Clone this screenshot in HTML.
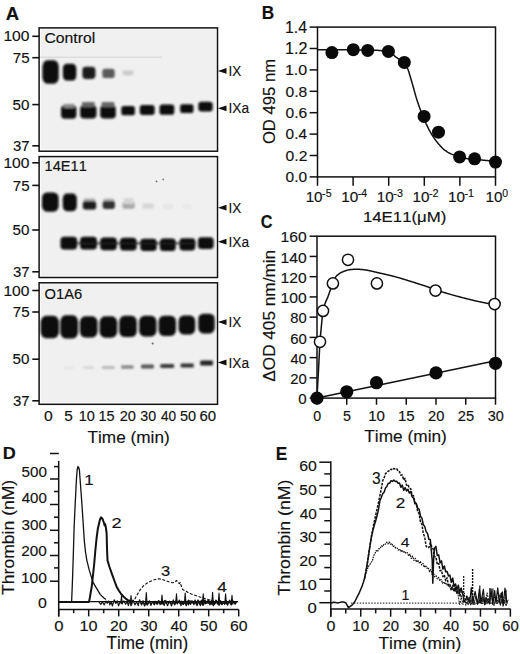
<!DOCTYPE html>
<html><head><meta charset="utf-8"><title>Figure</title>
<style>
html,body{margin:0;padding:0;background:#fff;}
svg{display:block;font-family:"Liberation Sans",sans-serif;font-kerning:none;}
</style></head>
<body>
<svg width="520" height="654" viewBox="0 0 520 654">
<defs><filter id="blur" x="-20%" y="-20%" width="140%" height="140%"><feGaussianBlur stdDeviation="1.15"/></filter></defs>
<rect width="520" height="654" fill="#fff"/>
<text transform="translate(5.84 19.50) scale(1.025 1)" font-size="18.02" font-weight="bold" fill="#111" stroke="#111" stroke-width="0.15">A</text>
<rect x="40.7" y="29.5" width="175.20000000000002" height="120.09999999999998" fill="#f0f0f0" stroke="none"/>
<rect x="40.7" y="158.2" width="175.20000000000002" height="117.7" fill="#f0f0f0" stroke="none"/>
<rect x="40.7" y="284.40000000000003" width="175.20000000000002" height="118.3" fill="#f0f0f0" stroke="none"/>
<g filter="url(#blur)">
<rect x="42.45" y="60.35" width="16.30" height="23.30" rx="4.96" ry="6.75" fill="#0a0a0a"/>
<rect x="62.90" y="63.80" width="13.40" height="16.80" rx="4.03" ry="4.80" fill="#0a0a0a"/>
<rect x="82.40" y="66.75" width="13.00" height="12.30" rx="3.68" ry="3.45" fill="#1c1c1c"/>
<rect x="102.35" y="68.65" width="12.30" height="9.30" rx="2.72" ry="2.55" fill="#5a5a5a"/>
<rect x="122.60" y="70.15" width="10.80" height="5.30" rx="1.44" ry="1.35" fill="#cdcdcd"/>
<rect x="61.05" y="105.35" width="15.30" height="13.30" rx="4.00" ry="3.75" fill="#0a0a0a"/>
<rect x="80.15" y="105.15" width="16.30" height="13.30" rx="4.00" ry="3.75" fill="#0a0a0a"/>
<rect x="100.20" y="105.15" width="15.60" height="13.30" rx="4.00" ry="3.75" fill="#0a0a0a"/>
<rect x="121.30" y="106.05" width="13.60" height="9.30" rx="2.72" ry="2.55" fill="#0a0a0a"/>
<rect x="139.80" y="105.10" width="14.80" height="9.80" rx="2.88" ry="2.70" fill="#0a0a0a"/>
<rect x="159.55" y="104.45" width="14.70" height="10.30" rx="3.04" ry="2.85" fill="#0a0a0a"/>
<rect x="180.15" y="104.30" width="13.30" height="8.80" rx="2.56" ry="2.40" fill="#0a0a0a"/>
<rect x="198.40" y="101.80" width="14.20" height="9.60" rx="2.82" ry="2.64" fill="#0a0a0a"/>
<rect x="81.90" y="102.10" width="12.80" height="4.80" rx="1.28" ry="1.20" fill="#666"/>
<rect x="101.60" y="102.10" width="12.80" height="4.80" rx="1.28" ry="1.20" fill="#666"/>
<rect x="63.60" y="104.10" width="10.80" height="3.80" rx="0.96" ry="0.90" fill="#888"/>
<rect x="42.00" y="192.45" width="16.60" height="19.30" rx="5.06" ry="5.55" fill="#0a0a0a"/>
<rect x="62.80" y="193.40" width="14.00" height="17.80" rx="4.22" ry="5.10" fill="#0a0a0a"/>
<rect x="83.60" y="198.60" width="11.80" height="5.80" rx="1.60" ry="1.50" fill="#aaa"/>
<rect x="82.85" y="201.15" width="13.30" height="8.30" rx="2.40" ry="2.25" fill="#1a1a1a"/>
<rect x="103.40" y="198.60" width="10.80" height="5.80" rx="1.60" ry="1.50" fill="#b0b0b0"/>
<rect x="102.65" y="201.10" width="12.30" height="7.80" rx="2.24" ry="2.10" fill="#333"/>
<rect x="122.45" y="202.00" width="12.30" height="6.80" rx="1.92" ry="1.80" fill="#a8a8a8"/>
<rect x="123.70" y="198.10" width="9.80" height="5.80" rx="1.60" ry="1.50" fill="#d6d6d6"/>
<rect x="142.45" y="203.55" width="11.30" height="5.30" rx="1.44" ry="1.35" fill="#d6d6d6"/>
<rect x="162.35" y="204.10" width="11.30" height="4.80" rx="1.28" ry="1.20" fill="#e6e6e6"/>
<rect x="182.10" y="204.10" width="9.80" height="4.80" rx="1.28" ry="1.20" fill="#eaeaea"/>
<rect x="60.50" y="236.80" width="16.60" height="12.80" rx="3.84" ry="3.60" fill="#0a0a0a"/>
<rect x="80.10" y="236.80" width="16.80" height="12.80" rx="3.84" ry="3.60" fill="#0a0a0a"/>
<rect x="100.20" y="237.40" width="16.60" height="12.80" rx="3.84" ry="3.60" fill="#0a0a0a"/>
<rect x="120.00" y="237.80" width="16.60" height="12.80" rx="3.84" ry="3.60" fill="#0a0a0a"/>
<rect x="140.35" y="238.65" width="16.30" height="12.30" rx="3.68" ry="3.45" fill="#0a0a0a"/>
<rect x="159.90" y="238.50" width="15.80" height="12.60" rx="3.78" ry="3.54" fill="#0a0a0a"/>
<rect x="179.50" y="238.15" width="15.80" height="12.30" rx="3.68" ry="3.45" fill="#0a0a0a"/>
<rect x="198.00" y="237.30" width="15.60" height="11.80" rx="3.52" ry="3.30" fill="#0a0a0a"/>
<rect x="76" y="242.5" width="120" height="1.6" fill="#222"/>
<rect x="40.65" y="315.85" width="18.30" height="22.30" rx="5.60" ry="6.45" fill="#0a0a0a"/>
<rect x="60.30" y="315.15" width="17.80" height="23.30" rx="5.44" ry="6.75" fill="#0a0a0a"/>
<rect x="79.90" y="316.15" width="17.60" height="21.30" rx="5.38" ry="6.15" fill="#0a0a0a"/>
<rect x="99.60" y="316.35" width="17.60" height="21.30" rx="5.38" ry="6.15" fill="#0a0a0a"/>
<rect x="119.20" y="315.75" width="17.60" height="21.30" rx="5.38" ry="6.15" fill="#0a0a0a"/>
<rect x="139.15" y="315.80" width="17.30" height="20.80" rx="5.28" ry="6.00" fill="#0a0a0a"/>
<rect x="158.65" y="315.65" width="17.30" height="20.30" rx="5.28" ry="5.85" fill="#0a0a0a"/>
<rect x="178.60" y="315.60" width="16.60" height="18.80" rx="5.06" ry="5.40" fill="#0a0a0a"/>
<rect x="198.35" y="313.70" width="16.30" height="19.80" rx="4.96" ry="5.70" fill="#0a0a0a"/>
<rect x="64.10" y="366.60" width="9.80" height="2.40" rx="0.51" ry="0.48" fill="#e4e4e4"/>
<rect x="83.20" y="366.10" width="10.80" height="2.80" rx="0.64" ry="0.60" fill="#dadada"/>
<rect x="102.15" y="365.90" width="12.30" height="3.20" rx="0.77" ry="0.72" fill="#b8b8b8"/>
<rect x="121.15" y="365.20" width="12.30" height="3.60" rx="0.90" ry="0.84" fill="#888"/>
<rect x="141.10" y="364.60" width="12.80" height="3.80" rx="0.96" ry="0.90" fill="#555"/>
<rect x="160.30" y="364.00" width="13.80" height="4.00" rx="1.02" ry="0.96" fill="#3a3a3a"/>
<rect x="180.60" y="363.40" width="13.20" height="4.20" rx="1.09" ry="1.02" fill="#333"/>
<rect x="200.20" y="360.60" width="12.80" height="4.80" rx="1.28" ry="1.20" fill="#222"/>
</g>
<circle cx="156.5" cy="181.3" r="0.9" fill="#666"/><circle cx="163.2" cy="179.4" r="0.9" fill="#777"/><circle cx="152.6" cy="343.5" r="1" fill="#666"/>
<line x1="39.10" y1="57.20" x2="162.00" y2="57.20" stroke="#cdcdcd" stroke-width="0.8" />
<rect x="39.1" y="27.9" width="178.4" height="123.29999999999998" fill="none" stroke="#111" stroke-width="1.5"/>
<line x1="32.30" y1="36.30" x2="39.10" y2="36.30" stroke="#111" stroke-width="1.6" />
<text transform="translate(3.41 41.45) scale(1.045 1)" font-size="14.97" font-weight="normal" fill="#111" stroke="#111" stroke-width="0.15">100</text>
<line x1="32.30" y1="57.70" x2="39.10" y2="57.70" stroke="#111" stroke-width="1.6" />
<text transform="translate(12.73 62.85) scale(0.995 1)" font-size="15.19" font-weight="normal" fill="#111" stroke="#111" stroke-width="0.15">75</text>
<line x1="32.30" y1="104.60" x2="39.10" y2="104.60" stroke="#111" stroke-width="1.6" />
<text transform="translate(12.59 109.75) scale(1.015 1)" font-size="14.97" font-weight="normal" fill="#111" stroke="#111" stroke-width="0.15">50</text>
<line x1="32.30" y1="145.80" x2="39.10" y2="145.80" stroke="#111" stroke-width="1.6" />
<text transform="translate(13.03 150.95) scale(0.998 1)" font-size="14.97" font-weight="normal" fill="#111" stroke="#111" stroke-width="0.15">37</text>
<text transform="translate(44.40 42.96) scale(1.093 1)" font-size="14.43" font-weight="normal" fill="#111" stroke="#111" stroke-width="0.15">Control</text>
<polygon points="217.8,70.9 226.5,68.0 226.5,73.8" fill="#111"/>
<text transform="translate(228.56 76.20) scale(0.883 1)" font-size="15.26" font-weight="normal" fill="#111" stroke="#111" stroke-width="0.15">IX</text>
<polygon points="217.8,108.3 226.5,105.4 226.5,111.2" fill="#111"/>
<text transform="translate(228.54 113.45) scale(0.910 1)" font-size="15.05" font-weight="normal" fill="#111" stroke="#111" stroke-width="0.15">IXa</text>
<rect x="39.1" y="156.6" width="178.4" height="120.9" fill="none" stroke="#111" stroke-width="1.5"/>
<line x1="32.30" y1="162.80" x2="39.10" y2="162.80" stroke="#111" stroke-width="1.6" />
<text transform="translate(3.41 167.95) scale(1.045 1)" font-size="14.97" font-weight="normal" fill="#111" stroke="#111" stroke-width="0.15">100</text>
<line x1="32.30" y1="185.40" x2="39.10" y2="185.40" stroke="#111" stroke-width="1.6" />
<text transform="translate(12.73 190.55) scale(0.995 1)" font-size="15.19" font-weight="normal" fill="#111" stroke="#111" stroke-width="0.15">75</text>
<line x1="32.30" y1="230.00" x2="39.10" y2="230.00" stroke="#111" stroke-width="1.6" />
<text transform="translate(12.59 235.15) scale(1.015 1)" font-size="14.97" font-weight="normal" fill="#111" stroke="#111" stroke-width="0.15">50</text>
<line x1="32.30" y1="271.80" x2="39.10" y2="271.80" stroke="#111" stroke-width="1.6" />
<text transform="translate(13.03 276.95) scale(0.998 1)" font-size="14.97" font-weight="normal" fill="#111" stroke="#111" stroke-width="0.15">37</text>
<text transform="translate(44.59 171.00) scale(0.975 1)" font-size="14.97" font-weight="normal" fill="#111" stroke="#111" stroke-width="0.15">14E11</text>
<polygon points="217.8,207.7 226.5,204.8 226.5,210.6" fill="#111"/>
<text transform="translate(228.56 213.00) scale(0.883 1)" font-size="15.26" font-weight="normal" fill="#111" stroke="#111" stroke-width="0.15">IX</text>
<polygon points="217.8,241.7 226.5,238.8 226.5,244.6" fill="#111"/>
<text transform="translate(228.54 246.85) scale(0.910 1)" font-size="15.05" font-weight="normal" fill="#111" stroke="#111" stroke-width="0.15">IXa</text>
<rect x="39.1" y="282.8" width="178.4" height="121.5" fill="none" stroke="#111" stroke-width="1.5"/>
<line x1="32.30" y1="290.50" x2="39.10" y2="290.50" stroke="#111" stroke-width="1.6" />
<text transform="translate(3.41 295.65) scale(1.045 1)" font-size="14.97" font-weight="normal" fill="#111" stroke="#111" stroke-width="0.15">100</text>
<line x1="32.30" y1="312.00" x2="39.10" y2="312.00" stroke="#111" stroke-width="1.6" />
<text transform="translate(12.73 317.15) scale(0.995 1)" font-size="15.19" font-weight="normal" fill="#111" stroke="#111" stroke-width="0.15">75</text>
<line x1="32.30" y1="359.20" x2="39.10" y2="359.20" stroke="#111" stroke-width="1.6" />
<text transform="translate(12.59 364.35) scale(1.015 1)" font-size="14.97" font-weight="normal" fill="#111" stroke="#111" stroke-width="0.15">50</text>
<line x1="32.30" y1="400.80" x2="39.10" y2="400.80" stroke="#111" stroke-width="1.6" />
<text transform="translate(13.03 405.95) scale(0.998 1)" font-size="14.97" font-weight="normal" fill="#111" stroke="#111" stroke-width="0.15">37</text>
<text transform="translate(44.50 298.75) scale(0.977 1)" font-size="15.11" font-weight="normal" fill="#111" stroke="#111" stroke-width="0.15">O1A6</text>
<polygon points="217.8,322.1 226.5,319.2 226.5,325.0" fill="#111"/>
<text transform="translate(228.56 327.40) scale(0.883 1)" font-size="15.26" font-weight="normal" fill="#111" stroke="#111" stroke-width="0.15">IX</text>
<polygon points="217.8,362.5 226.5,359.6 226.5,365.4" fill="#111"/>
<text transform="translate(228.54 367.65) scale(0.910 1)" font-size="15.05" font-weight="normal" fill="#111" stroke="#111" stroke-width="0.15">IXa</text>
<text transform="translate(43.99 421.45) scale(1.038 1)" font-size="15.11" font-weight="normal" fill="#111" stroke="#111" stroke-width="0.15">0</text>
<text transform="translate(64.18 421.45) scale(1.004 1)" font-size="15.33" font-weight="normal" fill="#111" stroke="#111" stroke-width="0.15">5</text>
<text transform="translate(78.70 421.45) scale(0.956 1)" font-size="15.11" font-weight="normal" fill="#111" stroke="#111" stroke-width="0.15">10</text>
<text transform="translate(98.50 421.45) scale(0.945 1)" font-size="15.33" font-weight="normal" fill="#111" stroke="#111" stroke-width="0.15">15</text>
<text transform="translate(119.66 421.45) scale(0.970 1)" font-size="15.11" font-weight="normal" fill="#111" stroke="#111" stroke-width="0.15">20</text>
<text transform="translate(140.36 421.45) scale(0.940 1)" font-size="15.11" font-weight="normal" fill="#111" stroke="#111" stroke-width="0.15">30</text>
<text transform="translate(160.99 421.45) scale(0.901 1)" font-size="15.11" font-weight="normal" fill="#111" stroke="#111" stroke-width="0.15">40</text>
<text transform="translate(180.02 421.45) scale(0.961 1)" font-size="15.11" font-weight="normal" fill="#111" stroke="#111" stroke-width="0.15">50</text>
<text transform="translate(199.54 421.45) scale(0.990 1)" font-size="15.11" font-weight="normal" fill="#111" stroke="#111" stroke-width="0.15">60</text>
<text transform="translate(87.51 442.50) scale(1.004 1)" font-size="17.15" font-weight="normal" fill="#111" stroke="#111" stroke-width="0.15">Time (min)</text>
<text transform="translate(261.65 19.10) scale(0.933 1)" font-size="18.46" font-weight="bold" fill="#111" stroke="#111" stroke-width="0.15">B</text>
<rect x="317.5" y="27.1" width="178.0" height="149.8" fill="none" stroke="#111" stroke-width="1.5"/>
<line x1="309.60" y1="176.90" x2="317.50" y2="176.90" stroke="#111" stroke-width="1.5" />
<text transform="translate(285.59 182.25) scale(1.010 1)" font-size="15.40" font-weight="normal" fill="#111" stroke="#111" stroke-width="0.15">0.0</text>
<line x1="309.60" y1="155.50" x2="317.50" y2="155.50" stroke="#111" stroke-width="1.5" />
<text transform="translate(285.59 160.85) scale(1.019 1)" font-size="15.40" font-weight="normal" fill="#111" stroke="#111" stroke-width="0.15">0.2</text>
<line x1="309.60" y1="134.10" x2="317.50" y2="134.10" stroke="#111" stroke-width="1.5" />
<text transform="translate(285.60 139.45) scale(1.002 1)" font-size="15.40" font-weight="normal" fill="#111" stroke="#111" stroke-width="0.15">0.4</text>
<line x1="309.60" y1="112.70" x2="317.50" y2="112.70" stroke="#111" stroke-width="1.5" />
<text transform="translate(285.59 118.05) scale(1.014 1)" font-size="15.40" font-weight="normal" fill="#111" stroke="#111" stroke-width="0.15">0.6</text>
<line x1="309.60" y1="91.30" x2="317.50" y2="91.30" stroke="#111" stroke-width="1.5" />
<text transform="translate(285.59 96.65) scale(1.013 1)" font-size="15.40" font-weight="normal" fill="#111" stroke="#111" stroke-width="0.15">0.8</text>
<line x1="309.60" y1="69.90" x2="317.50" y2="69.90" stroke="#111" stroke-width="1.5" />
<text transform="translate(284.98 75.25) scale(1.039 1)" font-size="15.40" font-weight="normal" fill="#111" stroke="#111" stroke-width="0.15">1.0</text>
<line x1="309.60" y1="48.50" x2="317.50" y2="48.50" stroke="#111" stroke-width="1.5" />
<text transform="translate(284.97 54.00) scale(1.034 1)" font-size="15.61" font-weight="normal" fill="#111" stroke="#111" stroke-width="0.15">1.2</text>
<line x1="309.60" y1="27.10" x2="317.50" y2="27.10" stroke="#111" stroke-width="1.5" />
<text transform="translate(284.99 32.60) scale(1.002 1)" font-size="15.84" font-weight="normal" fill="#111" stroke="#111" stroke-width="0.15">1.4</text>
<line x1="317.50" y1="176.90" x2="317.50" y2="185.80" stroke="#111" stroke-width="1.5" />
<text transform="translate(305.64 202.46) scale(1.101 1)" font-size="13.84" font-weight="normal" fill="#111" stroke="#111" stroke-width="0.15">10</text>
<text transform="translate(322.12 196.90) scale(1.010 1)" font-size="10.61" font-weight="normal" fill="#111" stroke="#111" stroke-width="0.15">-5</text>
<line x1="353.10" y1="176.90" x2="353.10" y2="185.80" stroke="#111" stroke-width="1.5" />
<text transform="translate(341.24 202.46) scale(1.101 1)" font-size="13.84" font-weight="normal" fill="#111" stroke="#111" stroke-width="0.15">10</text>
<text transform="translate(357.73 197.00) scale(0.981 1)" font-size="10.76" font-weight="normal" fill="#111" stroke="#111" stroke-width="0.15">-4</text>
<line x1="388.70" y1="176.90" x2="388.70" y2="185.80" stroke="#111" stroke-width="1.5" />
<text transform="translate(376.84 202.46) scale(1.101 1)" font-size="13.84" font-weight="normal" fill="#111" stroke="#111" stroke-width="0.15">10</text>
<text transform="translate(393.32 196.90) scale(1.028 1)" font-size="10.45" font-weight="normal" fill="#111" stroke="#111" stroke-width="0.15">-3</text>
<line x1="424.30" y1="176.90" x2="424.30" y2="185.80" stroke="#111" stroke-width="1.5" />
<text transform="translate(412.44 202.46) scale(1.101 1)" font-size="13.84" font-weight="normal" fill="#111" stroke="#111" stroke-width="0.15">10</text>
<text transform="translate(428.92 197.00) scale(1.021 1)" font-size="10.60" font-weight="normal" fill="#111" stroke="#111" stroke-width="0.15">-2</text>
<line x1="459.90" y1="176.90" x2="459.90" y2="185.80" stroke="#111" stroke-width="1.5" />
<text transform="translate(448.04 202.46) scale(1.101 1)" font-size="13.84" font-weight="normal" fill="#111" stroke="#111" stroke-width="0.15">10</text>
<text transform="translate(464.52 197.00) scale(1.005 1)" font-size="10.76" font-weight="normal" fill="#111" stroke="#111" stroke-width="0.15">-1</text>
<line x1="495.50" y1="176.90" x2="495.50" y2="185.80" stroke="#111" stroke-width="1.5" />
<text transform="translate(485.44 202.46) scale(1.101 1)" font-size="13.84" font-weight="normal" fill="#111" stroke="#111" stroke-width="0.15">10</text>
<text transform="translate(502.19 197.49) scale(0.926 1)" font-size="11.30" font-weight="normal" fill="#111" stroke="#111" stroke-width="0.15">0</text>
<text transform="translate(362.92 221.50) scale(1.123 1)" font-size="14.97" font-weight="normal" fill="#111" stroke="#111" stroke-width="0.15">14E11(μM)</text>
<text transform="translate(274.80 144.09) rotate(-90) scale(1.043 1)" font-size="15.99" font-weight="normal" fill="#111" stroke="#111" stroke-width="0.15">OD 495 nm</text>
<polyline points="317.20,49.80 317.79,49.80 318.39,49.80 318.98,49.80 319.58,49.80 320.17,49.80 320.77,49.80 321.36,49.80 321.95,49.80 322.55,49.80 323.14,49.80 323.74,49.80 324.33,49.80 324.93,49.80 325.52,49.80 326.12,49.80 326.71,49.80 327.30,49.80 327.90,49.80 328.49,49.80 329.09,49.80 329.68,49.80 330.28,49.80 330.87,49.80 331.46,49.80 332.06,49.80 332.65,49.80 333.25,49.80 333.84,49.80 334.44,49.80 335.03,49.80 335.62,49.80 336.22,49.80 336.81,49.80 337.41,49.80 338.00,49.80 338.60,49.80 339.19,49.80 339.78,49.80 340.38,49.80 340.97,49.80 341.57,49.80 342.16,49.80 342.76,49.80 343.35,49.80 343.94,49.80 344.54,49.81 345.13,49.81 345.73,49.81 346.32,49.81 346.92,49.81 347.51,49.82 348.11,49.82 348.70,49.82 349.29,49.83 349.89,49.83 350.48,49.83 351.08,49.84 351.67,49.84 352.27,49.84 352.86,49.85 353.45,49.85 354.05,49.85 354.64,49.86 355.24,49.86 355.83,49.87 356.43,49.87 357.02,49.88 357.61,49.88 358.21,49.89 358.80,49.89 359.40,49.90 359.99,49.90 360.59,49.91 361.18,49.91 361.77,49.92 362.37,49.92 362.96,49.93 363.56,49.94 364.15,49.95 364.75,49.95 365.34,49.96 365.94,49.97 366.53,49.98 367.12,50.00 367.72,50.01 368.31,50.02 368.91,50.03 369.50,50.05 370.10,50.06 370.69,50.07 371.28,50.09 371.88,50.10 372.47,50.12 373.07,50.14 373.66,50.16 374.26,50.18 374.85,50.20 375.44,50.22 376.04,50.24 376.63,50.27 377.23,50.31 377.82,50.35 378.42,50.39 379.01,50.44 379.61,50.49 380.20,50.54 380.79,50.59 381.39,50.65 381.98,50.70 382.58,50.76 383.17,50.82 383.77,50.87 384.36,50.93 384.95,50.99 385.55,51.06 386.14,51.13 386.74,51.21 387.33,51.31 387.93,51.42 388.52,51.55 389.11,51.76 389.71,52.04 390.30,52.37 390.90,52.75 391.49,53.15 392.09,53.56 392.68,54.05 393.27,54.62 393.87,55.22 394.46,55.82 395.06,56.35 395.65,56.83 396.25,57.28 396.84,57.72 397.44,58.15 398.03,58.58 398.62,59.02 399.22,59.46 399.81,59.91 400.41,60.35 401.00,60.79 401.60,61.25 402.19,61.73 402.78,62.25 403.38,62.77 403.97,63.32 404.57,63.91 405.16,64.58 405.76,65.34 406.35,66.25 406.94,67.29 407.54,68.48 408.13,69.82 408.73,71.49 409.32,73.45 409.92,75.50 410.51,77.50 411.10,79.50 411.70,81.55 412.29,83.62 412.89,85.70 413.48,87.79 414.08,89.93 414.67,92.11 415.26,94.28 415.86,96.39 416.45,98.37 417.05,100.25 417.64,102.06 418.24,103.81 418.83,105.52 419.43,107.19 420.02,108.84 420.61,110.46 421.21,112.02 421.80,113.51 422.40,114.89 422.99,116.19 423.59,117.47 424.18,118.79 424.77,120.22 425.37,121.75 425.96,123.24 426.56,124.61 427.15,125.90 427.75,127.15 428.34,128.35 428.93,129.50 429.53,130.61 430.12,131.69 430.72,132.74 431.31,133.76 431.91,134.76 432.50,135.72 433.09,136.64 433.69,137.54 434.28,138.40 434.88,139.23 435.47,140.04 436.07,140.83 436.66,141.59 437.26,142.33 437.85,143.04 438.44,143.74 439.04,144.42 439.63,145.09 440.23,145.76 440.82,146.41 441.42,147.05 442.01,147.66 442.60,148.26 443.20,148.82 443.79,149.34 444.39,149.83 444.98,150.29 445.58,150.72 446.17,151.14 446.76,151.55 447.36,151.93 447.95,152.30 448.55,152.65 449.14,152.98 449.74,153.29 450.33,153.58 450.92,153.86 451.52,154.12 452.11,154.37 452.71,154.61 453.30,154.84 453.90,155.06 454.49,155.27 455.09,155.48 455.68,155.68 456.27,155.87 456.87,156.06 457.46,156.24 458.06,156.42 458.65,156.60 459.25,156.77 459.84,156.94 460.43,157.11 461.03,157.28 461.62,157.45 462.22,157.62 462.81,157.78 463.41,157.93 464.00,158.07 464.59,158.21 465.19,158.33 465.78,158.43 466.38,158.53 466.97,158.61 467.57,158.69 468.16,158.77 468.75,158.84 469.35,158.91 469.94,158.97 470.54,159.04 471.13,159.10 471.73,159.16 472.32,159.21 472.92,159.26 473.51,159.32 474.10,159.37 474.70,159.42 475.29,159.47 475.89,159.51 476.48,159.56 477.08,159.61 477.67,159.66 478.26,159.71 478.86,159.76 479.45,159.81 480.05,159.86 480.64,159.92 481.24,159.97 481.83,160.03 482.42,160.09 483.02,160.15 483.61,160.21 484.21,160.27 484.80,160.33 485.40,160.39 485.99,160.45 486.58,160.51 487.18,160.56 487.77,160.62 488.37,160.68 488.96,160.74 489.56,160.80 490.15,160.86 490.75,160.92 491.34,160.98 491.93,161.04 492.53,161.10 493.12,161.16 493.72,161.22 494.31,161.28 494.91,161.34 495.50,161.40" fill="none" stroke="#111" stroke-width="1.5" stroke-linejoin="round" />
<circle cx="331.9" cy="52.6" r="6.5" fill="#0a0a0a"/>
<circle cx="353.3" cy="49.7" r="6.5" fill="#0a0a0a"/>
<circle cx="367.7" cy="50.4" r="6.5" fill="#0a0a0a"/>
<circle cx="388.4" cy="51.4" r="6.5" fill="#0a0a0a"/>
<circle cx="404.3" cy="62.4" r="6.5" fill="#0a0a0a"/>
<circle cx="424.1" cy="116.4" r="6.5" fill="#0a0a0a"/>
<circle cx="438.5" cy="132.2" r="6.5" fill="#0a0a0a"/>
<circle cx="459.6" cy="156.9" r="6.5" fill="#0a0a0a"/>
<circle cx="474.6" cy="158.8" r="6.5" fill="#0a0a0a"/>
<circle cx="495.5" cy="162.1" r="6.5" fill="#0a0a0a"/>
<text transform="translate(260.84 227.62) scale(0.897 1)" font-size="18.08" font-weight="bold" fill="#111" stroke="#111" stroke-width="0.15">C</text>
<rect x="317.0" y="236.2" width="178.5" height="161.90000000000003" fill="none" stroke="#111" stroke-width="1.5"/>
<line x1="309.60" y1="398.10" x2="317.00" y2="398.10" stroke="#111" stroke-width="1.5" />
<text transform="translate(298.31 404.35) scale(0.987 1)" font-size="15.25" font-weight="normal" fill="#111" stroke="#111" stroke-width="0.15">0</text>
<line x1="309.60" y1="377.86" x2="317.00" y2="377.86" stroke="#111" stroke-width="1.5" />
<text transform="translate(290.15 384.11) scale(0.974 1)" font-size="15.25" font-weight="normal" fill="#111" stroke="#111" stroke-width="0.15">20</text>
<line x1="309.60" y1="357.62" x2="317.00" y2="357.62" stroke="#111" stroke-width="1.5" />
<text transform="translate(290.57 363.88) scale(0.949 1)" font-size="15.25" font-weight="normal" fill="#111" stroke="#111" stroke-width="0.15">40</text>
<line x1="309.60" y1="337.39" x2="317.00" y2="337.39" stroke="#111" stroke-width="1.5" />
<text transform="translate(290.15 343.64) scale(0.975 1)" font-size="15.25" font-weight="normal" fill="#111" stroke="#111" stroke-width="0.15">60</text>
<line x1="309.60" y1="317.15" x2="317.00" y2="317.15" stroke="#111" stroke-width="1.5" />
<text transform="translate(290.26 323.40) scale(0.968 1)" font-size="15.25" font-weight="normal" fill="#111" stroke="#111" stroke-width="0.15">80</text>
<line x1="309.60" y1="296.91" x2="317.00" y2="296.91" stroke="#111" stroke-width="1.5" />
<text transform="translate(280.61 303.16) scale(1.026 1)" font-size="15.25" font-weight="normal" fill="#111" stroke="#111" stroke-width="0.15">100</text>
<line x1="309.60" y1="276.68" x2="317.00" y2="276.68" stroke="#111" stroke-width="1.5" />
<text transform="translate(280.61 282.93) scale(1.026 1)" font-size="15.25" font-weight="normal" fill="#111" stroke="#111" stroke-width="0.15">120</text>
<line x1="309.60" y1="256.44" x2="317.00" y2="256.44" stroke="#111" stroke-width="1.5" />
<text transform="translate(280.61 262.69) scale(1.026 1)" font-size="15.25" font-weight="normal" fill="#111" stroke="#111" stroke-width="0.15">140</text>
<line x1="309.60" y1="236.20" x2="317.00" y2="236.20" stroke="#111" stroke-width="1.5" />
<text transform="translate(280.61 242.45) scale(1.026 1)" font-size="15.25" font-weight="normal" fill="#111" stroke="#111" stroke-width="0.15">160</text>
<line x1="317.00" y1="398.10" x2="317.00" y2="404.80" stroke="#111" stroke-width="1.5" />
<text transform="translate(313.34 420.66) scale(0.968 1)" font-size="14.69" font-weight="normal" fill="#111" stroke="#111" stroke-width="0.15">0</text>
<line x1="346.75" y1="398.10" x2="346.75" y2="404.80" stroke="#111" stroke-width="1.5" />
<text transform="translate(343.08 420.65) scale(0.962 1)" font-size="14.90" font-weight="normal" fill="#111" stroke="#111" stroke-width="0.15">5</text>
<line x1="376.50" y1="398.10" x2="376.50" y2="404.80" stroke="#111" stroke-width="1.5" />
<text transform="translate(368.15 420.66) scale(1.024 1)" font-size="14.69" font-weight="normal" fill="#111" stroke="#111" stroke-width="0.15">10</text>
<line x1="406.25" y1="398.10" x2="406.25" y2="404.80" stroke="#111" stroke-width="1.5" />
<text transform="translate(397.90 420.65) scale(1.012 1)" font-size="14.90" font-weight="normal" fill="#111" stroke="#111" stroke-width="0.15">15</text>
<line x1="436.00" y1="398.10" x2="436.00" y2="404.80" stroke="#111" stroke-width="1.5" />
<text transform="translate(428.06 420.66) scale(0.998 1)" font-size="14.69" font-weight="normal" fill="#111" stroke="#111" stroke-width="0.15">20</text>
<line x1="465.75" y1="398.10" x2="465.75" y2="404.80" stroke="#111" stroke-width="1.5" />
<text transform="translate(457.81 420.66) scale(1.001 1)" font-size="14.69" font-weight="normal" fill="#111" stroke="#111" stroke-width="0.15">25</text>
<line x1="495.50" y1="398.10" x2="495.50" y2="404.80" stroke="#111" stroke-width="1.5" />
<text transform="translate(487.75 420.66) scale(0.986 1)" font-size="14.69" font-weight="normal" fill="#111" stroke="#111" stroke-width="0.15">30</text>
<text transform="translate(364.31 441.60) scale(0.999 1)" font-size="17.30" font-weight="normal" fill="#111" stroke="#111" stroke-width="0.15">Time (min)</text>
<text transform="translate(274.50 381.71) rotate(-90) scale(1.075 1)" font-size="15.99" font-weight="normal" fill="#111" stroke="#111" stroke-width="0.15">ΔOD 405 nm/min</text>
<line x1="317.00" y1="398.10" x2="495.50" y2="360.66" stroke="#111" stroke-width="1.5" />
<polyline points="316.90,398.10 317.35,390.48 317.79,382.71 318.24,374.78 318.68,366.59 319.13,357.64 319.57,348.87 320.02,341.57 320.46,335.90 320.91,331.02 321.35,326.50 321.80,321.83 322.24,317.02 322.69,312.90 323.13,310.26 323.58,308.32 324.02,306.64 324.47,305.18 324.91,303.88 325.36,302.73 325.80,301.67 326.25,300.67 326.70,299.68 327.14,298.67 327.59,297.59 328.03,296.41 328.48,295.18 328.92,293.95 329.37,292.73 329.81,291.52 330.26,290.31 330.70,289.11 331.15,287.93 331.59,286.76 332.04,285.60 332.48,284.45 332.93,283.33 333.37,282.16 333.82,280.95 334.26,279.78 334.71,278.70 335.16,277.80 335.60,277.11 336.05,276.53 336.49,276.00 336.94,275.52 337.38,275.10 337.83,274.72 338.27,274.37 338.72,274.05 339.16,273.74 339.61,273.46 340.05,273.19 340.50,272.93 340.94,272.69 341.39,272.47 341.83,272.25 342.28,272.05 342.72,271.85 343.17,271.67 343.62,271.49 344.06,271.32 344.51,271.15 344.95,270.98 345.40,270.82 345.84,270.66 346.29,270.51 346.73,270.36 347.18,270.22 347.62,270.10 348.07,269.98 348.51,269.88 348.96,269.80 349.40,269.73 349.85,269.67 350.29,269.62 350.74,269.57 351.18,269.52 351.63,269.47 352.07,269.42 352.52,269.38 352.97,269.34 353.41,269.31 353.86,269.28 354.30,269.25 354.75,269.23 355.19,269.22 355.64,269.20 356.08,269.20 356.53,269.20 356.97,269.21 357.42,269.22 357.86,269.24 358.31,269.26 358.75,269.28 359.20,269.31 359.64,269.34 360.09,269.38 360.53,269.41 360.98,269.45 361.42,269.49 361.87,269.53 362.32,269.57 362.76,269.61 363.21,269.65 363.65,269.69 364.10,269.75 364.54,269.80 364.99,269.86 365.43,269.93 365.88,270.00 366.32,270.07 366.77,270.15 367.21,270.23 367.66,270.31 368.10,270.40 368.55,270.49 368.99,270.58 369.44,270.67 369.88,270.77 370.33,270.87 370.78,270.97 371.22,271.07 371.67,271.17 372.11,271.28 372.56,271.38 373.00,271.49 373.45,271.59 373.89,271.70 374.34,271.81 374.78,271.92 375.23,272.02 375.67,272.13 376.12,272.24 376.56,272.34 377.01,272.45 377.45,272.55 377.90,272.65 378.34,272.75 378.79,272.85 379.24,272.95 379.68,273.05 380.13,273.15 380.57,273.25 381.02,273.34 381.46,273.44 381.91,273.54 382.35,273.64 382.80,273.74 383.24,273.84 383.69,273.94 384.13,274.04 384.58,274.15 385.02,274.25 385.47,274.35 385.91,274.45 386.36,274.56 386.80,274.66 387.25,274.77 387.69,274.87 388.14,274.98 388.59,275.08 389.03,275.19 389.48,275.30 389.92,275.41 390.37,275.52 390.81,275.63 391.26,275.74 391.70,275.85 392.15,275.96 392.59,276.07 393.04,276.18 393.48,276.30 393.93,276.41 394.37,276.53 394.82,276.65 395.26,276.76 395.71,276.88 396.15,277.00 396.60,277.12 397.04,277.25 397.49,277.37 397.94,277.50 398.38,277.62 398.83,277.75 399.27,277.88 399.72,278.01 400.16,278.14 400.61,278.27 401.05,278.40 401.50,278.53 401.94,278.67 402.39,278.80 402.83,278.94 403.28,279.07 403.72,279.21 404.17,279.35 404.61,279.48 405.06,279.62 405.50,279.76 405.95,279.90 406.40,280.04 406.84,280.18 407.29,280.32 407.73,280.46 408.18,280.60 408.62,280.74 409.07,280.88 409.51,281.02 409.96,281.16 410.40,281.29 410.85,281.43 411.29,281.57 411.74,281.71 412.18,281.85 412.63,281.99 413.07,282.13 413.52,282.27 413.96,282.41 414.41,282.55 414.86,282.69 415.30,282.83 415.75,282.97 416.19,283.11 416.64,283.25 417.08,283.39 417.53,283.53 417.97,283.67 418.42,283.81 418.86,283.95 419.31,284.09 419.75,284.24 420.20,284.38 420.64,284.52 421.09,284.67 421.53,284.81 421.98,284.96 422.42,285.10 422.87,285.25 423.31,285.39 423.76,285.54 424.21,285.69 424.65,285.83 425.10,285.98 425.54,286.13 425.99,286.28 426.43,286.43 426.88,286.58 427.32,286.73 427.77,286.89 428.21,287.04 428.66,287.19 429.10,287.35 429.55,287.51 429.99,287.67 430.44,287.83 430.88,288.00 431.33,288.16 431.77,288.33 432.22,288.49 432.66,288.65 433.11,288.82 433.56,288.98 434.00,289.14 434.45,289.30 434.89,289.46 435.34,289.61 435.78,289.77 436.23,289.92 436.67,290.07 437.12,290.22 437.56,290.38 438.01,290.53 438.45,290.68 438.90,290.83 439.34,290.98 439.79,291.13 440.23,291.27 440.68,291.42 441.12,291.56 441.57,291.71 442.02,291.85 442.46,291.99 442.91,292.14 443.35,292.28 443.80,292.41 444.24,292.55 444.69,292.69 445.13,292.82 445.58,292.96 446.02,293.09 446.47,293.22 446.91,293.36 447.36,293.49 447.80,293.62 448.25,293.75 448.69,293.88 449.14,294.01 449.58,294.14 450.03,294.26 450.48,294.39 450.92,294.52 451.37,294.64 451.81,294.77 452.26,294.89 452.70,295.02 453.15,295.14 453.59,295.26 454.04,295.39 454.48,295.51 454.93,295.63 455.37,295.75 455.82,295.87 456.26,295.99 456.71,296.11 457.15,296.23 457.60,296.35 458.04,296.47 458.49,296.59 458.93,296.71 459.38,296.83 459.83,296.94 460.27,297.06 460.72,297.18 461.16,297.29 461.61,297.41 462.05,297.53 462.50,297.64 462.94,297.76 463.39,297.87 463.83,297.99 464.28,298.10 464.72,298.22 465.17,298.33 465.61,298.44 466.06,298.56 466.50,298.67 466.95,298.78 467.39,298.89 467.84,299.01 468.28,299.12 468.73,299.23 469.18,299.34 469.62,299.45 470.07,299.56 470.51,299.67 470.96,299.77 471.40,299.88 471.85,299.99 472.29,300.09 472.74,300.20 473.18,300.30 473.63,300.41 474.07,300.51 474.52,300.62 474.96,300.72 475.41,300.82 475.85,300.92 476.30,301.02 476.74,301.12 477.19,301.22 477.64,301.32 478.08,301.42 478.53,301.51 478.97,301.61 479.42,301.71 479.86,301.80 480.31,301.90 480.75,302.00 481.20,302.09 481.64,302.18 482.09,302.28 482.53,302.37 482.98,302.47 483.42,302.56 483.87,302.65 484.31,302.74 484.76,302.83 485.20,302.93 485.65,303.02 486.10,303.11 486.54,303.20 486.99,303.29 487.43,303.37 487.88,303.46 488.32,303.55 488.77,303.64 489.21,303.72 489.66,303.81 490.10,303.89 490.55,303.98 490.99,304.06 491.44,304.15 491.88,304.23 492.33,304.31 492.77,304.40 493.22,304.48 493.66,304.56 494.11,304.64 494.55,304.72 495.00,304.80" fill="none" stroke="#111" stroke-width="1.5" stroke-linejoin="round" />
<circle cx="317.00" cy="398.10" r="6.6" fill="#0a0a0a"/>
<circle cx="346.75" cy="391.73" r="6.6" fill="#0a0a0a"/>
<circle cx="376.50" cy="382.72" r="6.6" fill="#0a0a0a"/>
<circle cx="436.00" cy="372.90" r="6.6" fill="#0a0a0a"/>
<circle cx="495.50" cy="363.29" r="6.6" fill="#0a0a0a"/>
<circle cx="320.0" cy="341.8" r="5.6" fill="#fff" stroke="#111" stroke-width="1.5"/>
<circle cx="323.0" cy="310.9" r="5.6" fill="#fff" stroke="#111" stroke-width="1.5"/>
<circle cx="332.9" cy="283.4" r="5.6" fill="#fff" stroke="#111" stroke-width="1.5"/>
<circle cx="348.0" cy="259.8" r="5.6" fill="#fff" stroke="#111" stroke-width="1.5"/>
<circle cx="376.9" cy="283.4" r="5.6" fill="#fff" stroke="#111" stroke-width="1.5"/>
<circle cx="435.5" cy="290.6" r="5.6" fill="#fff" stroke="#111" stroke-width="1.5"/>
<circle cx="494.6" cy="304.1" r="5.6" fill="#fff" stroke="#111" stroke-width="1.5"/>
<text transform="translate(2.69 458.80) scale(1.055 1)" font-size="17.15" font-weight="bold" fill="#111" stroke="#111" stroke-width="0.15">D</text>
<line x1="58.70" y1="460.90" x2="58.70" y2="616.60" stroke="#111" stroke-width="1.5" />
<line x1="50.00" y1="453.50" x2="58.80" y2="453.50" stroke="#111" stroke-width="1.5" />
<line x1="50.00" y1="479.00" x2="58.70" y2="479.00" stroke="#111" stroke-width="1.5" />
<line x1="50.00" y1="504.50" x2="58.70" y2="504.50" stroke="#111" stroke-width="1.5" />
<line x1="50.00" y1="530.30" x2="58.70" y2="530.30" stroke="#111" stroke-width="1.5" />
<line x1="50.00" y1="555.50" x2="58.70" y2="555.50" stroke="#111" stroke-width="1.5" />
<line x1="50.00" y1="581.20" x2="58.70" y2="581.20" stroke="#111" stroke-width="1.5" />
<line x1="54.00" y1="466.60" x2="58.70" y2="466.60" stroke="#111" stroke-width="1.5" />
<line x1="54.00" y1="491.50" x2="58.70" y2="491.50" stroke="#111" stroke-width="1.5" />
<line x1="54.00" y1="517.20" x2="58.70" y2="517.20" stroke="#111" stroke-width="1.5" />
<line x1="54.00" y1="542.80" x2="58.70" y2="542.80" stroke="#111" stroke-width="1.5" />
<line x1="54.00" y1="567.90" x2="58.70" y2="567.90" stroke="#111" stroke-width="1.5" />
<text transform="translate(21.49 476.65) scale(0.989 1)" font-size="15.40" font-weight="normal" fill="#111" stroke="#111" stroke-width="0.15">500</text>
<text transform="translate(21.75 502.90) scale(0.979 1)" font-size="15.40" font-weight="normal" fill="#111" stroke="#111" stroke-width="0.15">400</text>
<text transform="translate(21.52 529.50) scale(0.988 1)" font-size="15.40" font-weight="normal" fill="#111" stroke="#111" stroke-width="0.15">300</text>
<text transform="translate(21.33 556.30) scale(0.995 1)" font-size="15.40" font-weight="normal" fill="#111" stroke="#111" stroke-width="0.15">200</text>
<text transform="translate(20.91 582.70) scale(1.012 1)" font-size="15.40" font-weight="normal" fill="#111" stroke="#111" stroke-width="0.15">100</text>
<text transform="translate(38.08 608.20) scale(1.033 1)" font-size="15.40" font-weight="normal" fill="#111" stroke="#111" stroke-width="0.15">0</text>
<line x1="58.70" y1="609.50" x2="238.80" y2="609.50" stroke="#111" stroke-width="1.5" />
<line x1="58.70" y1="609.50" x2="58.70" y2="616.40" stroke="#111" stroke-width="1.5" />
<line x1="73.70" y1="609.50" x2="73.70" y2="613.20" stroke="#111" stroke-width="1.5" />
<line x1="88.70" y1="609.50" x2="88.70" y2="616.40" stroke="#111" stroke-width="1.5" />
<line x1="103.70" y1="609.50" x2="103.70" y2="613.20" stroke="#111" stroke-width="1.5" />
<line x1="118.70" y1="609.50" x2="118.70" y2="616.40" stroke="#111" stroke-width="1.5" />
<line x1="133.70" y1="609.50" x2="133.70" y2="613.20" stroke="#111" stroke-width="1.5" />
<line x1="148.70" y1="609.50" x2="148.70" y2="616.40" stroke="#111" stroke-width="1.5" />
<line x1="163.70" y1="609.50" x2="163.70" y2="613.20" stroke="#111" stroke-width="1.5" />
<line x1="178.70" y1="609.50" x2="178.70" y2="616.40" stroke="#111" stroke-width="1.5" />
<line x1="193.70" y1="609.50" x2="193.70" y2="613.20" stroke="#111" stroke-width="1.5" />
<line x1="208.70" y1="609.50" x2="208.70" y2="616.40" stroke="#111" stroke-width="1.5" />
<line x1="223.70" y1="609.50" x2="223.70" y2="613.20" stroke="#111" stroke-width="1.5" />
<line x1="238.70" y1="609.50" x2="238.70" y2="616.40" stroke="#111" stroke-width="1.5" />
<text transform="translate(54.20 631.45) scale(1.097 1)" font-size="15.25" font-weight="normal" fill="#111" stroke="#111" stroke-width="0.15">0</text>
<text transform="translate(79.51 631.45) scale(1.065 1)" font-size="15.25" font-weight="normal" fill="#111" stroke="#111" stroke-width="0.15">10</text>
<text transform="translate(109.95 631.45) scale(1.038 1)" font-size="15.25" font-weight="normal" fill="#111" stroke="#111" stroke-width="0.15">20</text>
<text transform="translate(140.15 631.45) scale(1.026 1)" font-size="15.25" font-weight="normal" fill="#111" stroke="#111" stroke-width="0.15">30</text>
<text transform="translate(170.40 631.45) scale(1.011 1)" font-size="15.25" font-weight="normal" fill="#111" stroke="#111" stroke-width="0.15">40</text>
<text transform="translate(200.12 631.45) scale(1.028 1)" font-size="15.25" font-weight="normal" fill="#111" stroke="#111" stroke-width="0.15">50</text>
<text transform="translate(229.95 631.45) scale(1.039 1)" font-size="15.25" font-weight="normal" fill="#111" stroke="#111" stroke-width="0.15">60</text>
<text transform="translate(106.52 649.30) scale(0.982 1)" font-size="17.44" font-weight="normal" fill="#111" stroke="#111" stroke-width="0.15">Time (min)</text>
<text transform="translate(14.00 594.89) rotate(-90) scale(1.042 1)" font-size="16.86" font-weight="normal" fill="#111" stroke="#111" stroke-width="0.15">Thrombin (nM)</text>
<text transform="translate(84.31 484.90) scale(1.099 1)" font-size="15.41" font-weight="normal" fill="#111" stroke="#111" stroke-width="0.15">1</text>
<text transform="translate(111.58 527.90) scale(1.223 1)" font-size="14.89" font-weight="normal" fill="#111" stroke="#111" stroke-width="0.15">2</text>
<text transform="translate(160.97 575.96) scale(1.153 1)" font-size="14.27" font-weight="normal" fill="#111" stroke="#111" stroke-width="0.15">3</text>
<text transform="translate(217.20 592.40) scale(1.121 1)" font-size="15.41" font-weight="normal" fill="#111" stroke="#111" stroke-width="0.15">4</text>
<line x1="58.70" y1="601.70" x2="238.00" y2="601.70" stroke="#111" stroke-width="1.3" />
<polyline points="99.00,601.80 100.78,604.51 102.36,601.71 104.24,604.88 105.85,601.15 107.20,603.15 108.68,601.00 109.86,604.85 111.21,601.67 112.37,606.01 114.20,599.86 115.91,603.38 117.34,600.78 118.58,605.89 120.05,601.62 121.95,603.63 123.96,600.89 125.61,604.22 127.20,601.54 128.36,605.65 129.70,600.09 131.02,605.93 133.00,600.16 134.85,604.87 136.67,601.69 138.25,605.55 139.56,599.75 141.53,604.40 143.01,600.89 144.50,606.01 145.99,601.93 147.20,605.25 149.27,600.79 150.86,604.79 152.70,601.45 154.40,604.81 156.12,601.55 157.41,604.24 159.42,601.15 161.11,604.12 162.33,601.83 164.23,605.41 165.71,600.33 167.48,605.74 169.52,601.00 171.59,605.91 173.27,599.84 174.87,604.31 176.22,599.86 177.50,603.47 179.39,600.11 180.98,605.57 182.15,601.36 183.54,604.43 184.83,601.82 186.27,605.74 188.34,600.18 189.92,603.97 191.96,600.71 193.78,603.36 195.10,599.95 196.98,605.70 198.68,600.96 200.36,605.61 201.77,600.69 203.16,605.39 204.29,600.33 206.32,603.35 208.01,600.43 209.95,604.88 211.32,601.01 213.36,605.76 214.61,601.76 215.82,603.35 217.37,601.65 219.32,605.08 220.56,600.68 221.99,604.64 223.32,601.59 224.62,604.32 226.42,600.65 227.59,605.23 229.54,600.11 231.42,603.31 232.99,601.84 234.84,603.76 236.64,601.38" fill="none" stroke="#111" stroke-width="1.2" stroke-linejoin="round" />
<polyline points="140.00,601.12 141.62,605.06 142.92,600.98 144.77,605.28 145.99,600.99 147.59,604.31 149.51,601.19 150.96,605.36 152.59,601.57 153.91,604.29 155.01,601.06 156.72,604.12 158.54,600.52 160.09,604.74 161.24,601.99 163.17,603.78 164.42,600.57 166.14,603.40 167.48,601.67 168.78,603.12 170.30,601.57 171.70,603.55 172.85,602.02 174.69,604.89 176.24,601.87 177.42,603.39 178.76,601.98 180.06,603.59 181.28,600.98 182.74,604.24 184.12,601.17 185.87,603.84 186.98,601.27 188.38,604.97 189.53,600.61 190.59,604.40 192.04,601.55 193.89,604.79 195.09,601.25 196.69,603.18 197.82,601.07 199.52,604.21 200.95,601.23 202.24,605.20 204.15,601.27 205.22,604.05 206.99,601.53 208.14,603.54 209.83,601.04 211.14,604.60 212.87,600.46 214.67,604.14 216.45,600.53 218.28,604.90 219.86,601.22 221.67,604.60 223.37,601.70 224.50,603.75 226.08,601.12 227.31,603.55 229.21,601.96 231.10,604.95 232.66,600.41 234.33,603.12 236.22,601.39" fill="none" stroke="#111" stroke-width="1.1" stroke-linejoin="round" />
<polyline points="185.00,601.00 186.69,602.80 188.22,601.38 189.42,603.28 190.73,600.92 192.68,602.69 194.51,601.26 196.51,604.37 197.92,599.89 199.84,602.78 201.44,600.18 203.58,603.01 205.02,600.03 207.19,602.83 208.48,600.08 209.99,603.53 212.07,600.09 213.94,604.68 215.87,599.96 217.72,604.02 218.97,599.77 221.09,603.44 222.92,601.49 224.62,604.10 226.11,600.72 228.15,602.94 229.81,601.35 231.39,604.72 233.20,601.46 235.27,604.18 236.99,600.97" fill="none" stroke="#111" stroke-width="1.1" stroke-linejoin="round" />
<polyline points="145.50,603.50 146.30,592.50 147.10,604.50" fill="none" stroke="#111" stroke-width="1.1" stroke-linejoin="round" />
<polyline points="161.20,603.50 162.00,595.00 162.80,604.50" fill="none" stroke="#111" stroke-width="1.1" stroke-linejoin="round" />
<polyline points="175.70,603.50 176.50,593.80 177.30,604.50" fill="none" stroke="#111" stroke-width="1.1" stroke-linejoin="round" />
<polyline points="184.40,603.50 185.20,593.10 186.00,604.50" fill="none" stroke="#111" stroke-width="1.1" stroke-linejoin="round" />
<polyline points="202.40,603.50 203.20,593.80 204.00,604.50" fill="none" stroke="#111" stroke-width="1.1" stroke-linejoin="round" />
<polyline points="211.80,603.50 212.60,592.40 213.40,604.50" fill="none" stroke="#111" stroke-width="1.1" stroke-linejoin="round" />
<polyline points="218.20,603.50 219.00,593.10 219.80,604.50" fill="none" stroke="#111" stroke-width="1.1" stroke-linejoin="round" />
<polyline points="224.80,603.50 225.60,593.80 226.40,604.50" fill="none" stroke="#111" stroke-width="1.1" stroke-linejoin="round" />
<polyline points="231.20,603.50 232.00,595.20 232.80,604.50" fill="none" stroke="#111" stroke-width="1.1" stroke-linejoin="round" />
<polyline points="120.70,603.50 121.50,596.00 122.30,604.50" fill="none" stroke="#111" stroke-width="1.1" stroke-linejoin="round" />
<polyline points="130.20,603.50 131.00,595.50 131.80,604.50" fill="none" stroke="#111" stroke-width="1.1" stroke-linejoin="round" />
<polyline points="58.70,601.80 71.60,601.70 72.10,590.00 72.60,577.00 73.40,552.00 74.10,528.00 75.00,508.00 75.80,491.70 76.50,478.00 77.20,469.50 78.00,466.50 78.70,467.50 79.40,470.00 80.60,486.00 81.90,503.90 83.10,522.00 84.30,540.60 85.50,552.00 86.80,560.10 89.20,569.90 92.90,582.10 96.60,588.30 100.20,594.40 103.90,598.00 106.00,599.50" fill="none" stroke="#111" stroke-width="1.3" stroke-linejoin="round" />
<polyline points="58.70,602.00 89.00,601.90 89.80,598.00 90.60,593.00 91.70,587.00 92.90,576.00 94.10,565.00 95.30,551.00 96.60,538.00 97.80,529.00 99.00,523.50 100.00,519.50 101.10,517.30 102.60,519.00 104.00,523.00 104.60,525.50 105.10,524.00 105.80,527.00 106.60,533.00 107.00,548.00 107.50,560.40 109.50,567.00 112.00,574.20 114.30,580.50 116.50,586.40 118.80,590.50 121.10,594.00 123.40,596.50 125.70,598.60 128.80,600.90 131.00,601.50" fill="none" stroke="#111" stroke-width="2.0" stroke-linejoin="round" />
<polyline points="131.00,601.50 134.20,600.30 137.00,595.00 140.30,589.60 143.00,586.30 146.30,583.60 150.00,581.50 153.30,580.10 158.50,578.70 162.00,579.30 165.40,580.60 169.00,581.80 172.30,582.70 174.50,582.50 176.60,580.50 177.80,582.00 179.20,583.60 180.30,582.50 181.00,585.30 182.70,589.60 184.50,590.50 186.20,591.30 188.50,592.80 191.30,594.00 194.00,595.00 196.50,595.70 200.00,597.00 203.20,598.10 208.00,599.50 212.00,600.30" fill="none" stroke="#111" stroke-width="1.1" stroke-linejoin="round" stroke-dasharray="3 1.6"/>
<text transform="translate(275.64 459.70) scale(0.944 1)" font-size="18.31" font-weight="bold" fill="#111" stroke="#111" stroke-width="0.15">E</text>
<line x1="330.80" y1="461.30" x2="330.80" y2="616.40" stroke="#111" stroke-width="1.5" />
<line x1="319.30" y1="602.70" x2="330.80" y2="602.70" stroke="#111" stroke-width="1.5" />
<text transform="translate(307.55 613.15) scale(1.118 1)" font-size="14.97" font-weight="normal" fill="#111" stroke="#111" stroke-width="0.15">0</text>
<line x1="324.30" y1="590.99" x2="330.80" y2="590.99" stroke="#111" stroke-width="1.5" />
<line x1="319.30" y1="579.28" x2="330.80" y2="579.28" stroke="#111" stroke-width="1.5" />
<text transform="translate(298.76 589.50) scale(1.085 1)" font-size="14.97" font-weight="normal" fill="#111" stroke="#111" stroke-width="0.15">10</text>
<line x1="324.30" y1="567.58" x2="330.80" y2="567.58" stroke="#111" stroke-width="1.5" />
<line x1="319.30" y1="555.87" x2="330.80" y2="555.87" stroke="#111" stroke-width="1.5" />
<text transform="translate(299.20 565.85) scale(1.058 1)" font-size="14.97" font-weight="normal" fill="#111" stroke="#111" stroke-width="0.15">20</text>
<line x1="324.30" y1="544.16" x2="330.80" y2="544.16" stroke="#111" stroke-width="1.5" />
<line x1="319.30" y1="532.45" x2="330.80" y2="532.45" stroke="#111" stroke-width="1.5" />
<text transform="translate(299.40 542.20) scale(1.045 1)" font-size="14.97" font-weight="normal" fill="#111" stroke="#111" stroke-width="0.15">30</text>
<line x1="324.30" y1="520.74" x2="330.80" y2="520.74" stroke="#111" stroke-width="1.5" />
<line x1="319.30" y1="509.03" x2="330.80" y2="509.03" stroke="#111" stroke-width="1.5" />
<text transform="translate(299.65 518.55) scale(1.030 1)" font-size="14.97" font-weight="normal" fill="#111" stroke="#111" stroke-width="0.15">40</text>
<line x1="324.30" y1="497.32" x2="330.80" y2="497.32" stroke="#111" stroke-width="1.5" />
<line x1="319.30" y1="485.62" x2="330.80" y2="485.62" stroke="#111" stroke-width="1.5" />
<text transform="translate(299.37 494.90) scale(1.047 1)" font-size="14.97" font-weight="normal" fill="#111" stroke="#111" stroke-width="0.15">50</text>
<line x1="324.30" y1="473.91" x2="330.80" y2="473.91" stroke="#111" stroke-width="1.5" />
<line x1="319.30" y1="462.20" x2="330.80" y2="462.20" stroke="#111" stroke-width="1.5" />
<text transform="translate(299.20 471.25) scale(1.058 1)" font-size="14.97" font-weight="normal" fill="#111" stroke="#111" stroke-width="0.15">60</text>
<line x1="330.80" y1="608.90" x2="510.60" y2="608.90" stroke="#111" stroke-width="1.5" />
<line x1="330.80" y1="608.90" x2="330.80" y2="616.70" stroke="#111" stroke-width="1.5" />
<line x1="345.76" y1="608.90" x2="345.76" y2="613.40" stroke="#111" stroke-width="1.5" />
<line x1="360.73" y1="608.90" x2="360.73" y2="616.70" stroke="#111" stroke-width="1.5" />
<line x1="375.69" y1="608.90" x2="375.69" y2="613.40" stroke="#111" stroke-width="1.5" />
<line x1="390.66" y1="608.90" x2="390.66" y2="616.70" stroke="#111" stroke-width="1.5" />
<line x1="405.62" y1="608.90" x2="405.62" y2="613.40" stroke="#111" stroke-width="1.5" />
<line x1="420.59" y1="608.90" x2="420.59" y2="616.70" stroke="#111" stroke-width="1.5" />
<line x1="435.56" y1="608.90" x2="435.56" y2="613.40" stroke="#111" stroke-width="1.5" />
<line x1="450.52" y1="608.90" x2="450.52" y2="616.70" stroke="#111" stroke-width="1.5" />
<line x1="465.49" y1="608.90" x2="465.49" y2="613.40" stroke="#111" stroke-width="1.5" />
<line x1="480.45" y1="608.90" x2="480.45" y2="616.70" stroke="#111" stroke-width="1.5" />
<line x1="495.42" y1="608.90" x2="495.42" y2="613.40" stroke="#111" stroke-width="1.5" />
<line x1="510.38" y1="608.90" x2="510.38" y2="616.70" stroke="#111" stroke-width="1.5" />
<text transform="translate(326.62 631.06) scale(1.097 1)" font-size="14.69" font-weight="normal" fill="#111" stroke="#111" stroke-width="0.15">0</text>
<text transform="translate(352.27 631.06) scale(1.038 1)" font-size="14.69" font-weight="normal" fill="#111" stroke="#111" stroke-width="0.15">10</text>
<text transform="translate(382.61 631.06) scale(1.012 1)" font-size="14.69" font-weight="normal" fill="#111" stroke="#111" stroke-width="0.15">20</text>
<text transform="translate(412.73 631.06) scale(1.000 1)" font-size="14.69" font-weight="normal" fill="#111" stroke="#111" stroke-width="0.15">30</text>
<text transform="translate(442.89 631.06) scale(0.985 1)" font-size="14.69" font-weight="normal" fill="#111" stroke="#111" stroke-width="0.15">40</text>
<text transform="translate(472.56 631.06) scale(1.002 1)" font-size="14.69" font-weight="normal" fill="#111" stroke="#111" stroke-width="0.15">50</text>
<text transform="translate(502.33 631.06) scale(1.012 1)" font-size="14.69" font-weight="normal" fill="#111" stroke="#111" stroke-width="0.15">60</text>
<text transform="translate(378.51 648.80) scale(1.010 1)" font-size="17.15" font-weight="normal" fill="#111" stroke="#111" stroke-width="0.15">Time (min)</text>
<text transform="translate(290.40 595.40) rotate(-90) scale(1.038 1)" font-size="17.01" font-weight="normal" fill="#111" stroke="#111" stroke-width="0.15">Thrombin (nM)</text>
<text transform="translate(372.01 484.45) scale(0.996 1)" font-size="15.68" font-weight="normal" fill="#111" stroke="#111" stroke-width="0.15">3</text>
<text transform="translate(395.74 507.80) scale(1.195 1)" font-size="14.32" font-weight="normal" fill="#111" stroke="#111" stroke-width="0.15">2</text>
<text transform="translate(400.84 546.90) scale(1.200 1)" font-size="13.23" font-weight="normal" fill="#111" stroke="#111" stroke-width="0.15">4</text>
<text transform="translate(401.42 599.60) scale(1.014 1)" font-size="13.95" font-weight="normal" fill="#111" stroke="#111" stroke-width="0.15">1</text>
<line x1="351.00" y1="603.10" x2="462.00" y2="603.10" stroke="#111" stroke-width="1.0" stroke-dasharray="1.5 1.4"/>
<polyline points="330.80,602.50 331.50,603.00 333.50,602.20 335.70,602.40 337.50,603.00 339.50,602.60 341.50,602.00 343.40,602.00 345.70,602.70 347.20,605.40 348.40,607.60 349.90,606.60 352.60,604.60 354.90,601.50 357.20,596.90 359.50,592.30 361.80,586.90 363.40,582.30 364.50,578.50" fill="none" stroke="#111" stroke-width="1.5" stroke-linejoin="round" />
<polyline points="364.50,578.64 365.90,571.68 367.30,563.75 368.70,554.31 370.10,545.24 371.50,536.87 372.90,530.53 374.30,525.30 375.70,520.77 377.10,515.54 378.50,509.33 379.90,500.73 381.30,497.57 382.70,493.79 384.10,492.16 385.50,487.90 386.90,486.40 388.30,483.28 389.70,483.19 391.10,480.67 392.50,481.39 393.90,480.01 395.30,481.55 396.70,481.20 398.10,483.22 399.50,483.00 400.90,487.35 402.30,485.16 403.70,490.33 405.10,487.58 406.50,491.09 407.90,489.21 409.30,493.10 410.70,491.54 412.10,496.90 413.50,497.84 414.90,503.75 416.30,503.42 417.70,508.29 419.10,509.12 420.50,516.14 421.90,518.19 423.30,524.67 424.70,526.40 426.10,531.63 427.50,533.49 428.90,539.25 430.30,539.56 432.20,560.00 432.80,583.30 433.60,560.00 434.50,548.16 435.90,546.40 437.30,555.55 438.70,554.79 440.10,562.87 441.50,560.82 442.90,569.09 444.30,566.05 445.70,571.79 447.10,571.58 448.50,575.97 449.90,575.08 451.30,582.27 452.70,578.10 454.10,586.43 455.50,584.02 456.90,589.52 458.30,585.29 459.70,592.45 461.10,587.99 462.50,593.65" fill="none" stroke="#111" stroke-width="1.5" stroke-linejoin="round" />
<polyline points="364.50,578.67 365.90,571.63 367.30,563.42 368.70,553.82 370.10,544.42 371.50,535.73 372.90,528.56 374.30,521.48 375.70,515.16 377.10,508.56 378.50,502.77 379.90,495.30 381.30,489.03 382.70,480.56 384.10,477.87 385.50,473.41 386.90,472.78 388.30,470.88 389.70,471.04 391.10,469.15 392.50,469.97 393.90,468.44 395.30,468.93 396.70,468.67 398.10,471.24 399.50,471.70 400.90,475.28 402.30,475.00 403.70,480.08 405.10,478.30 406.50,485.17 407.90,484.51 409.30,488.32 410.70,488.64 412.10,495.16 413.50,495.76 414.90,501.75 416.30,504.02 417.70,511.69 419.10,513.48 420.50,522.15 421.90,524.10 423.30,533.25 424.70,537.19 426.10,546.13 427.50,547.83 428.90,547.56 430.30,542.82 431.70,546.70 433.10,548.92 434.50,556.63 435.90,556.94 437.30,564.69 438.70,563.43 440.10,570.80 441.50,570.37 442.90,576.66 444.30,574.82 445.70,580.75 447.10,577.76 448.50,585.76 449.90,584.45 451.30,590.60 452.70,585.36 454.10,591.81 455.50,587.59 456.90,593.27 458.30,589.92 459.70,595.65 461.10,592.24" fill="none" stroke="#111" stroke-width="1.5" stroke-linejoin="round" stroke-dasharray="2.6 1.2"/>
<polyline points="364.50,578.56 365.80,573.32 367.10,569.69 368.40,566.60 369.70,564.67 371.00,562.39 372.30,561.20 373.60,555.72 374.90,553.76 376.20,550.65 377.50,551.64 378.80,548.70 380.10,548.74 381.40,545.74 382.70,546.49 384.00,544.09 385.30,544.28 386.60,542.18 387.90,543.95 389.20,541.95 390.50,544.27 391.80,543.44 393.10,546.43 394.40,546.05 395.70,548.24 397.00,547.97 398.30,550.10 399.60,548.93 400.90,551.51 402.20,550.07 403.50,552.69 404.80,551.46 406.10,553.62 407.40,552.64 408.70,555.89 410.00,554.22 411.30,558.51 412.60,556.11 413.90,560.42 415.20,558.22 416.50,562.15 417.80,560.03 419.10,562.99 420.40,561.54 421.70,564.97 423.00,563.45 424.30,567.29 425.60,565.34 426.90,568.36 428.20,567.40 429.50,571.58 430.80,569.71 432.10,574.48 433.40,572.33 434.70,576.94 436.00,575.61 437.30,578.83 438.60,577.50 439.90,580.79 441.20,579.35 442.50,583.25 443.80,581.88 445.10,584.32 446.40,582.99 447.70,585.93 449.00,585.08 450.30,587.71 451.60,587.18 452.90,589.58 454.20,588.20 455.50,591.04 456.80,589.85 458.10,593.91 459.40,592.94 460.70,596.56 462.00,595.91" fill="none" stroke="#111" stroke-width="1.2" stroke-linejoin="round" stroke-dasharray="1.6 0.9"/>
<polyline points="462.00,590.89 464.19,602.03 466.96,596.87 469.76,602.79 471.28,587.66 472.79,602.07 475.10,591.39 477.60,604.28 479.36,589.00 481.12,602.09 483.36,589.28 484.79,604.67 486.69,598.35 489.46,603.99 491.06,588.77 492.66,604.21 494.68,590.57 495.90,603.05 497.73,587.83 499.33,602.89 501.20,592.93 503.30,604.55 504.97,588.14 506.66,602.65" fill="none" stroke="#111" stroke-width="1.2" stroke-linejoin="round" />
<polyline points="458.00,594.52 459.70,604.69 461.35,597.28 463.03,604.55 464.33,592.99 465.69,605.34 466.75,595.17 468.34,604.66 469.95,599.70 472.25,604.71 473.54,599.88 475.73,604.39 477.83,599.96 480.15,603.69 481.46,599.22 482.85,603.82 483.94,598.86 485.28,603.51 487.13,592.76 489.22,603.25 491.56,593.19 492.77,604.39 494.84,596.38 496.82,603.73 499.01,593.83 500.58,605.41 502.14,592.53 504.14,603.27 505.71,595.09 507.40,603.41" fill="none" stroke="#111" stroke-width="1.0" stroke-linejoin="round" stroke-dasharray="2 1"/>
<polyline points="466.00,601.59 467.29,604.22 469.18,596.81 470.65,605.17 472.28,597.02 473.94,605.00 475.86,596.20 477.91,604.02 479.79,599.55 481.69,604.05 482.97,596.61 484.81,605.10 485.96,597.34 486.95,604.10 488.52,599.06 490.27,603.73 492.18,602.87 493.96,605.73 495.88,596.66 497.34,603.74 499.18,599.77 500.20,604.83 502.04,599.86 503.08,606.31 504.05,601.90 506.12,605.75 508.15,599.72" fill="none" stroke="#111" stroke-width="0.9" stroke-linejoin="round" />
<line x1="472.60" y1="569.00" x2="472.60" y2="603.00" stroke="#111" stroke-width="1.4" stroke-dasharray="2 1"/>
<line x1="463.70" y1="576.00" x2="463.70" y2="603.00" stroke="#111" stroke-width="1.2" stroke-dasharray="2 1"/>
<line x1="479.80" y1="585.60" x2="479.80" y2="603.00" stroke="#111" stroke-width="1.2" />
<line x1="489.90" y1="588.00" x2="489.90" y2="603.00" stroke="#111" stroke-width="1.2" />
<line x1="492.90" y1="588.60" x2="492.90" y2="603.00" stroke="#111" stroke-width="1.2" />
<line x1="506.00" y1="589.80" x2="506.00" y2="603.00" stroke="#111" stroke-width="1.2" />
<line x1="502.40" y1="591.60" x2="502.40" y2="603.00" stroke="#111" stroke-width="1.2" />
</svg>
</body></html>
